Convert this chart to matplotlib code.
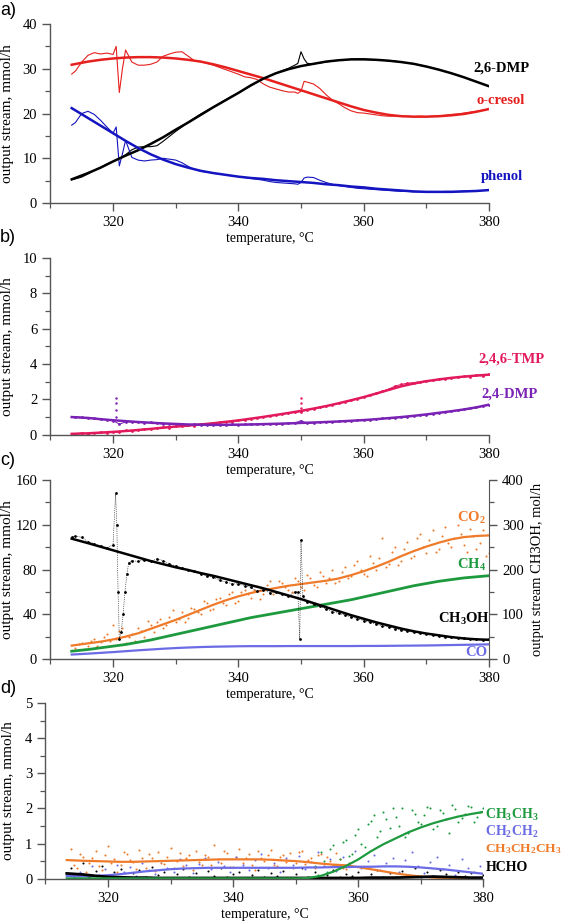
import numpy as np
import matplotlib
matplotlib.use("Agg")
import matplotlib.pyplot as plt
from matplotlib.ticker import MultipleLocator

plt.rcParams['font.family'] = ['Liberation Serif', 'DejaVu Serif']
plt.rcParams['mathtext.fontset'] = 'custom'
plt.rcParams['mathtext.rm'] = 'Liberation Serif:bold'
plt.rcParams['mathtext.bf'] = 'Liberation Serif:bold'
plt.rcParams['mathtext.default'] = 'bf'

# ---- temperature grids ----
T_FIT = [313.4] + list(range(316, 381, 2))
T_RAW_A = [313.4, 314, 315, 316, 317, 318, 319, 320, 320.5, 321, 321.5] + list(range(322, 350)) \
    + [349.5, 350, 350.5] + list(range(351, 381))

# ---- panel a ----
dmp26_fit = [5.3, 6.7, 7.9, 9.3, 10.6, 11.8, 13.2, 14.7, 16.4, 18.0, 19.7, 21.4, 23.0, 24.6,
             26.3, 27.8, 29.0, 29.9, 30.6, 31.1, 31.6, 31.9, 32.1, 32.1, 32.0, 31.8, 31.5,
             31.1, 30.5, 29.8, 29.0, 28.1, 27.1, 26.1]
cresol_fit = [30.9, 31.6, 32.0, 32.3, 32.5, 32.6, 32.6, 32.5, 32.3, 32.0, 31.6, 31.0, 30.3,
              29.5, 28.7, 27.9, 27.0, 26.1, 25.2, 24.3, 23.4, 22.5, 21.6, 20.8, 20.2, 19.7,
              19.4, 19.3, 19.3, 19.4, 19.6, 19.9, 20.4, 21.0]
phenol_fit = [21.2, 19.0, 17.3, 15.6, 13.9, 12.3, 10.9, 9.7, 8.7, 7.9, 7.2, 6.7, 6.3, 5.9,
              5.6, 5.4, 5.1, 4.9, 4.7, 4.5, 4.2, 4.0, 3.7, 3.5, 3.2, 3.0, 2.8, 2.6, 2.5, 2.5,
              2.5, 2.6, 2.7, 2.9]

cresol_raw = [28.8, 29.5, 31.5, 33.0, 33.6, 33.3, 33.5, 33.2, 35.0, 24.7, 30.0,
              34.2, 31.5, 30.8, 30.8, 31.0, 31.5, 32.8, 33.3, 33.7, 33.8, 32.8, 31.8, 31.6,
              31.2, 30.8, 30.3, 29.8, 29.3, 28.8, 28.2, 28.0, 27.6, 26.6, 25.9, 25.5, 25.1,
              24.8, 24.8,
              24.5, 25.0, 27.2,
              27.0, 26.6, 25.6, 24.2, 23.0, 22.2, 21.3, 20.6, 20.2, 20.1, 19.9, 19.7, 19.5,
              19.4, 19.4, 19.4, 19.4, 19.3, 19.4, 19.3, 19.4, 19.5, 19.6, 19.8, 19.9, 20.1,
              20.3, 20.5, 20.7, 21.0]
dmp26_raw = [5.2, 5.4, 5.8, 6.5, 7.3, 8.0, 8.7, 9.3, 9.6, 10.0, 10.3,
             10.8, 11.9, 12.5, 12.6, 12.6, 12.8, 13.8, 14.9, 16.0, 17.0, 18.1, 19.0, 19.9,
             20.7, 21.5, 22.3, 23.1, 23.9, 24.6, 25.4, 26.2, 27.0, 27.8, 28.4, 29.0, 29.6,
             30.1, 30.8,
             31.2, 33.8, 32.2,
             31.2, 31.1, 31.3, 31.5, 31.7, 31.9, 32.0, 32.1, 32.2, 32.2, 32.1, 32.0, 31.9,
             31.8, 31.7, 31.5, 31.3, 31.1, 30.8, 30.5, 30.2, 29.8, 29.4, 29.0, 28.6, 28.1,
             27.6, 27.1, 26.6, 26.1]
phenol_raw = [17.4, 18.0, 20.0, 20.5, 19.8, 18.5, 17.0, 15.6, 17.0, 8.3, 11.0,
              14.0, 10.2, 9.6, 9.4, 9.6, 9.7, 10.0, 9.8, 9.6, 9.0, 8.2, 7.5, 7.1, 6.9, 6.7,
              6.5, 6.3, 6.1, 5.9, 5.7, 5.5, 5.3, 5.1, 4.8, 4.6, 4.5, 4.4, 4.3,
              4.2, 4.6, 5.6,
              5.8, 5.7, 5.1, 4.6, 4.2, 3.9, 3.7, 3.5, 3.3, 3.2, 3.1, 3.0, 2.9, 2.8, 2.7,
              2.6, 2.6, 2.5, 2.5, 2.5, 2.5, 2.5, 2.6, 2.6, 2.6, 2.7, 2.7, 2.8, 2.8, 2.9]

# ---- panel b ----
tmp_fit = [0.05, 0.08, 0.12, 0.16, 0.21, 0.27, 0.33, 0.40, 0.46, 0.52, 0.58, 0.65, 0.73,
           0.81, 0.91, 1.01, 1.12, 1.23, 1.35, 1.48, 1.62, 1.78, 1.95, 2.13, 2.33, 2.54,
           2.74, 2.90, 3.03, 3.13, 3.22, 3.29, 3.35, 3.40]
dmp24_fit = [1.0, 0.95, 0.88, 0.82, 0.77, 0.72, 0.68, 0.64, 0.61, 0.58, 0.57, 0.56, 0.56,
             0.57, 0.58, 0.60, 0.62, 0.64, 0.67, 0.69, 0.72, 0.75, 0.79, 0.83, 0.88, 0.94,
             1.00, 1.07, 1.15, 1.24, 1.33, 1.43, 1.55, 1.70]
tmp_raw = [0.05, 0.10, 0.04, 0.09, 0.14, 0.10, 0.18, 0.15, 0.24, 0.20, 0.28, 0.32, 0.30,
           0.38, 0.42, 0.40, 0.47, 0.50, 0.55, 0.52, 0.60, 0.58, 0.66, 0.70, 0.74, 0.72,
           0.83, 0.86, 0.90, 0.96, 1.02, 1.05, 1.13, 1.16, 1.24, 1.28, 1.30, 1.42, 1.48,
           1.55, 1.63, 1.70, 1.78, 1.86, 1.97, 2.05, 2.12, 2.25, 2.35, 2.45, 2.58, 2.75,
           2.85, 2.92, 2.95, 3.00, 3.05, 3.08, 3.15, 3.18, 3.22, 3.25, 3.30, 3.28, 3.36,
           3.33, 3.42]
dmp24_raw = [1.02, 0.98, 0.96, 0.92, 0.88, 0.86, 0.80, 0.60, 0.72, 0.74, 0.70, 0.68, 0.70,
             0.64, 0.62, 0.63, 0.60, 0.58, 0.56, 0.58, 0.55, 0.57, 0.55, 0.57, 0.55, 0.58,
             0.56, 0.58, 0.60, 0.59, 0.61, 0.60, 0.63, 0.62, 0.65, 0.66, 0.80, 0.64, 0.68,
             0.70, 0.71, 0.74, 0.75, 0.78, 0.79, 0.82, 0.84, 0.85, 0.88, 0.92, 0.94, 0.97,
             1.00, 1.03, 1.07, 1.10, 1.14, 1.18, 1.24, 1.28, 1.33, 1.38, 1.43, 1.50, 1.55,
             1.62, 1.70]
dmp24_spike = [1.0, 1.4, 1.8, 2.1]
tmp_spike = [1.5, 1.8, 2.1]

# ---- panel c ----
co2_fit = [12, 14, 15.5, 17.5, 20, 23, 27, 31, 35, 39.5, 44, 48.5, 52.5, 56, 59, 61.5, 63.5,
           65.5, 67, 68.5, 70, 72, 75, 78.5, 82.5, 87, 92, 96.5, 100.5, 104, 107, 109, 110,
           110.5]
ch4_fit = [7, 8.5, 10, 11.5, 13, 15, 17, 19.5, 22, 24.5, 27, 29.5, 32, 34.5, 37, 39, 41, 43,
           45, 47, 49, 51, 53, 55.5, 58, 60.5, 63, 65.5, 67.5, 69.5, 71, 72.5, 73.5, 74.5]
co_fit = [4, 4.8, 5.5, 6.2, 7, 7.8, 8.5, 9.2, 9.8, 10.3, 10.7, 11, 11.2, 11.4, 11.5, 11.5,
          11.5, 11.6, 11.6, 11.6, 11.6, 11.6, 11.6, 11.7, 11.7, 11.8, 11.9, 12.0, 12.1, 12.3,
          12.5, 12.7, 12.9, 13.1]
meoh_fit = [269, 259, 251, 243, 235, 227, 219, 212, 205, 199, 192, 186, 179, 172, 165, 158,
            150, 142, 134, 125, 116, 107, 98, 90, 82, 75, 68, 62, 57, 53, 49, 46, 44, 43]
meoh_raw_t = [313.4, 314, 315, 316, 317, 318, 319, 320, 320.4, 320.6, 320.8, 321, 321.3,
              321.6, 321.9, 322.2, 322.5] + list(range(323, 350)) \
    + [349.5, 349.8, 350, 350.3] + list(range(351, 381))
meoh_raw = [272, 275, 272, 262, 258, 252, 248, 255, 370, 300, 150, 45, 60, 100, 150, 190, 215,
            220, 218, 222, 218, 224, 220, 213, 208, 204, 198, 196, 190, 186, 183, 176, 172,
            168, 168, 164, 160, 152, 155, 148, 150, 145, 140, 150,
            150, 45, 265, 140,
            128, 122, 118, 112, 106, 102, 98, 94, 90, 86, 82, 78, 74, 72, 68, 65, 62, 60, 58,
            56, 54, 52, 50, 49, 47, 46, 45, 44, 43, 45]
co2_pts_a = [10, 14, 12, 18, 15, 22, 30, 25, 14, 22, 28, 20, 30, 33, 28, 38, 33, 42, 37, 45,
             40, 50, 45, 55, 48, 60, 52, 62, 55, 65, 58, 70, 60, 68, 62, 72, 64, 75, 66, 78,
             68, 80, 70, 82, 74, 88, 76, 92, 80, 108, 85, 100, 88, 105, 92, 112, 95, 115, 98,
             118, 100, 120, 102, 116, 98, 115, 95]
co2_pts_b = [13, 9, 16, 12, 20, 16, 18, 28, 20, 16, 25, 34, 24, 36, 30, 44, 36, 33, 46, 42,
             52, 44, 54, 50, 58, 50, 60, 58, 62, 54, 66, 58, 70, 64, 60, 70, 62, 72, 64, 74,
             72, 68, 78, 72, 84, 80, 74, 86, 90, 82, 96, 84, 98, 90, 108, 100, 106, 96, 110,
             104, 108, 112, 96, 110, 104, 92]

# ---- panel d ----
ethane_fit = [0.01] * 19 + [0.02, 0.08, 0.2, 0.36, 0.55, 0.78, 0.98, 1.15, 1.32, 1.46, 1.58,
                            1.68, 1.77, 1.84, 1.90]
ethene_fit = [0.08, 0.07, 0.08, 0.10, 0.13, 0.17, 0.21, 0.24, 0.27, 0.29, 0.30, 0.31, 0.31,
              0.31, 0.31, 0.31, 0.31, 0.31, 0.31, 0.32, 0.32, 0.33, 0.33, 0.34, 0.34, 0.35,
              0.35, 0.34, 0.32, 0.29, 0.26, 0.22, 0.18, 0.14]
propane_fit = [0.53, 0.51, 0.50, 0.49, 0.48, 0.48, 0.49, 0.50, 0.51, 0.52, 0.53, 0.54, 0.55,
               0.55, 0.55, 0.55, 0.54, 0.52, 0.50, 0.47, 0.43, 0.40, 0.38, 0.33, 0.27, 0.21,
               0.15, 0.10, 0.06, 0.03, 0.01, 0.0, 0.0, 0.0]
hcho_fit = [0.15, 0.12, 0.08, 0.05, 0.04, 0.03, 0.03, 0.02, 0.02, 0.02, 0.02, 0.02, 0.02,
            0.02, 0.02, 0.02, 0.02, 0.02, 0.02, 0.02, 0.02, 0.02, 0.02, 0.02, 0.03, 0.03,
            0.03, 0.04, 0.05, 0.06, 0.05, 0.04, 0.03, 0.03]
propane_pts_a = [0.85, 0.30, 0.62, 0.45, 0.78, 0.25, 0.92, 0.55, 0.38, 0.70, 0.48, 0.82, 0.30,
                 0.60, 0.75, 0.42, 0.88, 0.50, 0.35, 0.68, 0.80, 0.40, 0.62, 0.95, 0.45, 0.72,
                 0.33, 0.85, 0.58, 0.40, 0.78, 0.50, 0.82, 0.36, 0.66, 0.74, 0.44, 0.80, 0.52,
                 0.30, 0.70, 0.62, 0.40, 0.55, 0.28]
propane_pts_b = [0.40, 0.70, 0.20, 0.58, 0.35, 0.66, 0.44, 0.18, 0.75, 0.52, 0.28, 0.60, 0.70,
                 0.22, 0.45, 0.62, 0.30, 0.72, 0.58, 0.26, 0.48, 0.66, 0.38, 0.56, 0.80, 0.34,
                 0.62, 0.46, 0.70, 0.26, 0.58, 0.68, 0.40, 0.62, 0.48, 0.30, 0.76, 0.42, 0.60,
                 0.68, 0.35, 0.50, 0.72, 0.30, 0.45]
ethene_pts = [0.05, 0.20, 0.02, 0.35, 0.10, 0.28, 0.05, 0.40, 0.18, 0.32, 0.08, 0.45, 0.25,
              0.12, 0.50, 0.30, 0.20, 0.55, 0.38, 0.15, 0.42, 0.60, 0.28, 0.48, 0.35, 0.18,
              0.62, 0.40, 0.25, 0.52, 0.70, 0.30, 0.45, 0.20, 0.58, 0.38, 0.65, 0.28, 0.48,
              0.75, 0.35, 0.55, 0.22, 0.62, 0.40, 0.80, 0.30, 0.50, 0.68, 0.25, 0.45, 0.58,
              0.20, 0.52, 0.75, 0.35, 0.15, 0.48, 0.62, 0.28, 0.40, 0.10, 0.55, 0.30, 0.18,
              0.35, 0.08]
ethane_pts_a = [0.35, 0.75, 0.20, 0.95, 0.55, 1.10, 0.70, 1.40, 0.90, 1.65, 1.20, 1.90, 1.45,
                1.75, 2.00, 1.30, 1.85, 1.55, 2.05, 1.40, 1.95, 1.70, 2.10, 1.60, 1.85, 2.05,
                1.75, 2.00]
ethane_pts_b = [0.10, 0.50, 0.85, 0.40, 1.05, 0.65, 1.25, 1.00, 1.55, 1.80, 1.35, 1.70, 2.02,
                1.50, 1.20, 1.95, 1.62, 1.80, 2.00, 1.50, 1.88, 1.30, 1.98, 1.72, 2.06, 1.60,
                1.90]
hcho_pts = [0.30, 0.12, 0.45, 0.05, 0.22, 0.35, 0.08, 0.18, 0.28, 0.02, 0.15, 0.25, 0.05,
            0.32, 0.10, 0.20, 0.03, 0.12, 0.28, 0.06, 0.15, 0.02, 0.22, 0.08, 0.30, 0.04,
            0.14, 0.20, 0.02, 0.10, 0.25, 0.05, 0.16, 0.08, 0.22, 0.03, 0.12, 0.30, 0.06,
            0.18, 0.02, 0.10, 0.24, 0.05, 0.14, 0.08, 0.20, 0.03, 0.12, 0.26, 0.06, 0.16,
            0.04, 0.22, 0.10, 0.30, 0.05, 0.18, 0.08, 0.25, 0.12, 0.04, 0.20, 0.08, 0.15,
            0.03, 0.10]

RED = '#e5201e'
BLUE = '#1414c0'
PINK = '#e2195c'
PURPLE = '#7a22b4'
ORANGE = '#ef7a2a'
GREEN = '#1e9a3e'
LBLUE = '#6b6be6'
SPINE = '#555555'


def grid(start, vals, step=1.0):
    return start + np.arange(len(vals)) * step


def prepare(ax, ymax, major, minor):
    ax.set_xlim(310, 380)
    ax.set_ylim(0, ymax)
    for s in ['top', 'right']:
        ax.spines[s].set_visible(False)
    for s in ['left', 'bottom']:
        ax.spines[s].set_color(SPINE)
        ax.spines[s].set_linewidth(1.0)
    ax.xaxis.set_major_locator(MultipleLocator(20))
    ax.xaxis.set_minor_locator(MultipleLocator(10))
    ax.yaxis.set_major_locator(MultipleLocator(major))
    ax.yaxis.set_minor_locator(MultipleLocator(minor))
    ax.tick_params(which='major', length=6, width=1.0, color=SPINE, labelsize=10.5, direction='out')
    ax.tick_params(which='minor', length=3.5, width=0.9, color=SPINE, direction='out')
    ax.set_xlabel('temperature, \u00b0C', fontsize=10, labelpad=2)
    ax.set_ylabel('output stream, mmol/h', fontsize=11)
    ax.yaxis.set_label_coords(-0.082, 0.5)


def label(ax, x, y, s, color, ha='right', size=10.5):
    ax.text(x, y, s, color=color, ha=ha, va='center', fontsize=size, fontweight='bold',
            clip_on=False)


fig = plt.figure(figsize=(5.67, 9.23), dpi=100)
L, W = 0.0889, 0.7734

# a)
ax = fig.add_axes([L, 0.780, W, 0.194])
prepare(ax, 40, 10, 5)
ax.plot(T_RAW_A, cresol_raw, color=RED, lw=0.8)
ax.plot(T_RAW_A, dmp26_raw, color='black', lw=0.8)
ax.plot(T_RAW_A, phenol_raw, color=BLUE, lw=0.8)
ax.plot(T_FIT, cresol_fit, color=RED, lw=1.8)
ax.plot(T_FIT, dmp26_fit, color='black', lw=1.8)
ax.plot(T_FIT, phenol_fit, color=BLUE, lw=1.8)
label(ax, 386.5, 30.2, '2,6-DMP', 'black')
label(ax, 385.8, 23.0, 'o-cresol', RED)
label(ax, 385.5, 6.0, 'phenol', BLUE)

# b)
ax = fig.add_axes([L, 0.529, W, 0.1914])
prepare(ax, 10, 2, 1)
ax.plot(grid(314, tmp_raw), tmp_raw, color=PINK, lw=0.7, marker='.', ms=2)
ax.plot(grid(314, dmp24_raw), dmp24_raw, color=PURPLE, lw=0.7, marker='.', ms=2)
ax.plot([320.5] * len(dmp24_spike), dmp24_spike, ls='none', marker='.', ms=1.5, color=PURPLE)
ax.plot([350] * len(tmp_spike), tmp_spike, ls='none', marker='.', ms=1.5, color=PINK)
ax.plot(T_FIT, tmp_fit, color=PINK, lw=1.8)
ax.plot(T_FIT, dmp24_fit, color=PURPLE, lw=1.8)
label(ax, 388.8, 4.28, '2,4,6-TMP', PINK)
label(ax, 387.8, 2.3, '2,4-DMP', PURPLE)

# c)
ax = fig.add_axes([L, 0.286, W, 0.1939])
prepare(ax, 160, 40, 20)
ax2 = ax.twinx()
ax2.set_ylim(0, 400)
for s in ['top', 'left', 'bottom']:
    ax2.spines[s].set_visible(False)
ax2.spines['right'].set_color(SPINE)
ax2.yaxis.set_major_locator(MultipleLocator(100))
ax2.yaxis.set_minor_locator(MultipleLocator(50))
ax2.tick_params(which='major', length=6, width=1.0, color=SPINE, labelsize=10.5)
ax2.tick_params(which='minor', length=3.5, width=0.9, color=SPINE)
ax2.set_ylabel('output stream CH3OH, mol/h', fontsize=10.5, labelpad=5)
ax.scatter(grid(314, co2_pts_a), co2_pts_a, s=2.2, color=ORANGE, lw=0)
ax.scatter(grid(314.5, co2_pts_b), co2_pts_b, s=2.2, color=ORANGE, lw=0)
ax2.plot(meoh_raw_t, meoh_raw, color='black', lw=0.5, ls=':', marker='.', ms=2)
ax.plot(T_FIT, co2_fit, color=ORANGE, lw=1.6)
ax.plot(T_FIT, ch4_fit, color=GREEN, lw=2.0)
ax.plot(T_FIT, co_fit, color=LBLUE, lw=1.6)
ax2.plot(T_FIT, meoh_fit, color='black', lw=1.8)
label(ax, 379.5, 126, 'CO$_2$', ORANGE)
label(ax, 379.5, 84.5, 'CH$_4$', GREEN)
label(ax, 380.2, 36, 'CH$_3$OH', 'black')
label(ax, 379.8, 5.4, 'CO', LBLUE)

# d)
ax = fig.add_axes([0.0802, 0.048, 0.7725, 0.1904])
prepare(ax, 5, 1, 0.5)
ax.yaxis.set_label_coords(-0.069, 0.5)
ax.scatter(grid(314, propane_pts_a), propane_pts_a, s=2.2, color=ORANGE, lw=0)
ax.scatter(grid(314.5, propane_pts_b), propane_pts_b, s=2.2, color=ORANGE, lw=0)
ax.scatter(grid(314.5, ethene_pts), ethene_pts, s=2.2, color=LBLUE, lw=0)
ax.scatter(grid(353, ethane_pts_a), ethane_pts_a, s=2.2, color=GREEN, lw=0)
ax.scatter(grid(353.5, ethane_pts_b), ethane_pts_b, s=2.2, color=GREEN, lw=0)
ax.scatter(grid(314, hcho_pts), hcho_pts, s=2.2, color='black', lw=0)
ax.plot(T_FIT, propane_fit, color=ORANGE, lw=1.6)
ax.plot(T_FIT, ethene_fit, color=LBLUE, lw=1.6)
ax.plot(T_FIT, hcho_fit, color='black', lw=2.0)
ax.plot(T_FIT, ethane_fit, color=GREEN, lw=1.6)
label(ax, 380.3, 1.81, 'CH$_3$CH$_3$', GREEN, ha='left', size=10)
label(ax, 380.3, 1.33, 'CH$_2$CH$_2$', LBLUE, ha='left', size=10)
label(ax, 380.3, 0.85, 'CH$_3$CH$_2$CH$_3$', ORANGE, ha='left', size=9.6)
label(ax, 380.3, 0.31, 'HCHO', 'black', ha='left', size=10)

# panel letters
for s, y in [('a)', 0.989), ('b)', 0.743), ('c)', 0.501), ('d)', 0.254)]:
    fig.text(0.0, y, s, fontsize=13, family=['Liberation Sans', 'DejaVu Sans'], va='center')

fig.savefig('out.png', dpi=100)
